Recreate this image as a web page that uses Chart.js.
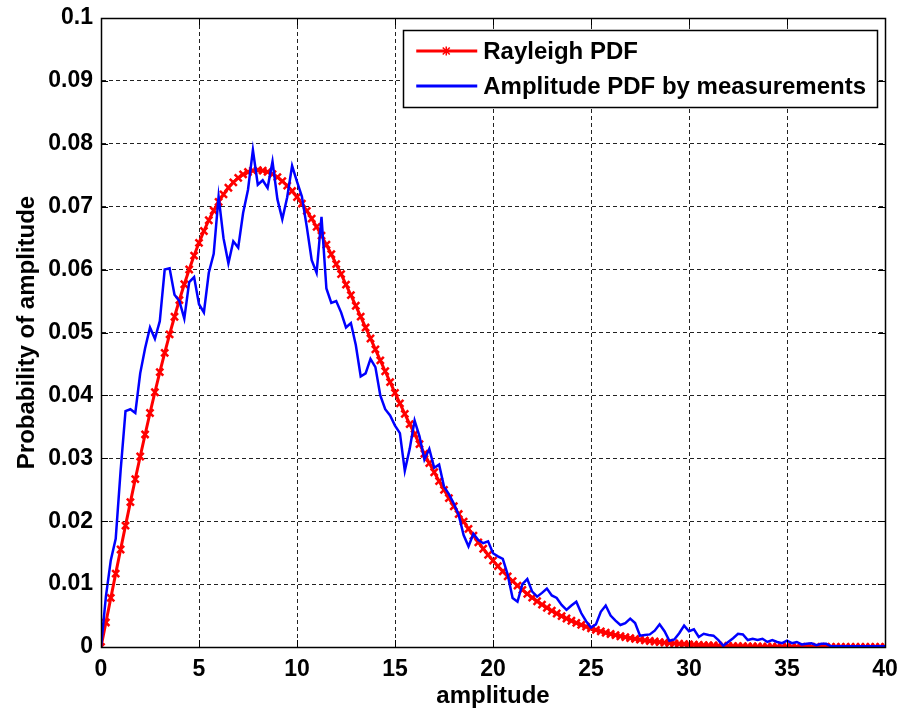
<!DOCTYPE html>
<html>
<head>
<meta charset="utf-8">
<title>Rayleigh PDF</title>
<script src="https://cdn.jsdelivr.net/npm/chart.js@4/dist/chart.umd.min.js"></script>
<style>
body { margin: 0; background: #fff; }
#grafico { display: block; }
</style>
</head>
<body>
<canvas id="grafico" width="897" height="712"></canvas>
<script>
// muestras de amplitud (eje x)
var amplitud = [
    0, 0.25, 0.5, 0.75, 1, 1.25, 1.5, 1.75, 2, 2.25, 2.5, 2.75, 3, 3.25, 3.5, 3.75, 4, 4.25, 4.5, 4.75,
    5, 5.25, 5.5, 5.75, 6, 6.25, 6.5, 6.75, 7, 7.25, 7.5, 7.75, 8, 8.25, 8.5, 8.75, 9, 9.25, 9.5, 9.75,
    10, 10.25, 10.5, 10.75, 11, 11.25, 11.5, 11.75, 12, 12.25, 12.5, 12.75, 13, 13.25, 13.5, 13.75, 14, 14.25, 14.5, 14.75,
    15, 15.25, 15.5, 15.75, 16, 16.25, 16.5, 16.75, 17, 17.25, 17.5, 17.75, 18, 18.25, 18.5, 18.75, 19, 19.25, 19.5, 19.75,
    20, 20.25, 20.5, 20.75, 21, 21.25, 21.5, 21.75, 22, 22.25, 22.5, 22.75, 23, 23.25, 23.5, 23.75, 24, 24.25, 24.5, 24.75,
    25, 25.25, 25.5, 25.75, 26, 26.25, 26.5, 26.75, 27, 27.25, 27.5, 27.75, 28, 28.25, 28.5, 28.75, 29, 29.25, 29.5, 29.75,
    30, 30.25, 30.5, 30.75, 31, 31.25, 31.5, 31.75, 32, 32.25, 32.5, 32.75, 33, 33.25, 33.5, 33.75, 34, 34.25, 34.5, 34.75,
    35, 35.25, 35.5, 35.75, 36, 36.25, 36.5, 36.75, 37, 37.25, 37.5, 37.75, 38, 38.25, 38.5, 38.75, 39, 39.25, 39.5, 39.75,
    40
];

// curva roja (Rayleigh PDF)
var rayleighPdf = [
    0, 0.00390, 0.00780, 0.01167, 0.01550, 0.01929, 0.02303, 0.02670, 0.03029, 0.03379, 0.03720, 0.04050, 0.04369, 0.04676, 0.04970, 0.05250, 0.05516, 0.05767, 0.06002, 0.06223,
    0.06426, 0.06614, 0.06785, 0.06939, 0.07077, 0.07197, 0.07301, 0.07388, 0.07459, 0.07513, 0.07551, 0.07574, 0.07582, 0.07574, 0.07553, 0.07517, 0.07469, 0.07407, 0.07334, 0.07249,
    0.07154, 0.07048, 0.06933, 0.06810, 0.06679, 0.06540, 0.06395, 0.06244, 0.06087, 0.05927, 0.05762, 0.05595, 0.05425, 0.05252, 0.05079, 0.04905, 0.04731, 0.04557, 0.04384, 0.04212,
    0.04041, 0.03873, 0.03707, 0.03544, 0.03383, 0.03226, 0.03073, 0.02923, 0.02778, 0.02636, 0.02499, 0.02366, 0.02238, 0.02114, 0.01994, 0.01879, 0.01769, 0.01663, 0.01562, 0.01465,
    0.01373, 0.01285, 0.01202, 0.01122, 0.01047, 0.00975, 0.00908, 0.00844, 0.00784, 0.00727, 0.00674, 0.00624, 0.00576, 0.00533, 0.00491, 0.00453, 0.00417, 0.00383, 0.00352, 0.00323,
    0.00296, 0.00271, 0.00248, 0.00227, 0.00207, 0.00189, 0.00171, 0.00156, 0.00142, 0.00129, 0.00117, 0.00106, 0.00096, 0.00087, 0.00078, 0.00070, 0.00063, 0.00057, 0.00051, 0.00046,
    0.00041, 0.00037, 0.00033, 0.00030, 0.00027, 0.00024, 0.00021, 0.00019, 0.00017, 0.00015, 0.00013, 0.00012, 0.00010, 0.00009, 0.00008, 0.00007, 0.00006, 0.00005, 0.00005, 0.00004,
    0.00004, 0.00003, 0.00003, 0.00003, 0.00003, 0.00002, 0.00002, 0.00002, 0.00002, 0.00001, 0.00001, 0.00001, 0.00001, 0.00001, 0.00001, 0.00001, 0.00001, 0.00001, 0.00001, 0.00001,
    0.00001
];

// curva azul (medidas)
var medidasPdf = [
    0, 0.0080, 0.0138, 0.0172, 0.0280, 0.0375, 0.0378, 0.0372, 0.0435, 0.0475, 0.0508, 0.0490, 0.0518, 0.0600, 0.0602, 0.0560, 0.0550, 0.0522, 0.0580, 0.0588,
    0.0545, 0.0532, 0.0595, 0.0625, 0.0716, 0.0650, 0.0610, 0.0645, 0.0635, 0.0690, 0.0727, 0.0790, 0.0735, 0.0742, 0.0730, 0.0772, 0.0712, 0.0680, 0.0715, 0.0765,
    0.0740, 0.0716, 0.0668, 0.0615, 0.0595, 0.0684, 0.0570, 0.0547, 0.0550, 0.0532, 0.0508, 0.0515, 0.0480, 0.0430, 0.0435, 0.0458, 0.0445, 0.0400, 0.0378, 0.0368,
    0.0352, 0.0340, 0.0280, 0.0315, 0.0360, 0.0335, 0.0298, 0.0315, 0.0285, 0.0290, 0.0255, 0.0243, 0.0228, 0.0210, 0.0178, 0.0160, 0.0180, 0.0170, 0.0165, 0.0168,
    0.0149, 0.0144, 0.0140, 0.0115, 0.0078, 0.0072, 0.0100, 0.0108, 0.0088, 0.0080, 0.0086, 0.0093, 0.0082, 0.0078, 0.0067, 0.0059, 0.0066, 0.0072, 0.0054, 0.0041,
    0.0031, 0.0036, 0.0056, 0.0066, 0.0050, 0.0042, 0.0035, 0.0038, 0.0045, 0.0038, 0.0018, 0.0019, 0.0020, 0.0026, 0.0036, 0.0025, 0.0010, 0.0012, 0.0022, 0.0034,
    0.0025, 0.0028, 0.0016, 0.0021, 0.0019, 0.0018, 0.0011, 0.0002, 0.0008, 0.0014, 0.0021, 0.0020, 0.0011, 0.0013, 0.0011, 0.0013, 0.0008, 0.0011, 0.0008, 0.0006,
    0.0010, 0.0006, 0.0008, 0.0004, 0.0005, 0.0006, 0.0003, 0.0005, 0.0005, 0.0001, 0.0001, 0.0001, 0.0001, 0.0001, 0.0001, 0.0001, 0.0001, 0.0001, 0.0001, 0.0001,
    0.0001
];

var ticksX = [0, 5, 10, 15, 20, 25, 30, 35, 40];
var ticksY = [0, 0.01, 0.02, 0.03, 0.04, 0.05, 0.06, 0.07, 0.08, 0.09, 0.1];
var nombres = ["Rayleigh PDF", "Amplitude PDF by measurements"];
var tituloX = "amplitude";
var tituloY = "Probability of amplitude";

var fuente = '"Liberation Sans", Arial, sans-serif';

function puntos(xs, ys)
{
    return xs.map(function (x, i) {
        return {x: x, y: ys[i]};
    });
}

function fijarTicks(lista)
{
    return function (scale) {
        scale.ticks = lista.map(function (v) { return {value: v}; });
    };
}

// marco negro y marcas de eje hacia adentro (estilo matlab)
var marcoEjes = {
    id: 'marcoEjes',
    afterDatasetsDraw: function (chart) {
        var ctx = chart.ctx;
        var a = chart.chartArea;
        var sx = chart.scales.x;
        var sy = chart.scales.y;
        var largo = 7;
        ctx.save();
        ctx.strokeStyle = '#000';
        ctx.lineWidth = 1;
        ctx.beginPath();
        sx.ticks.forEach(function (t) {
            var px = Math.round(sx.getPixelForValue(t.value)) + 0.5;
            ctx.moveTo(px, a.bottom); ctx.lineTo(px, a.bottom - largo);
            ctx.moveTo(px, a.top); ctx.lineTo(px, a.top + largo);
        });
        sy.ticks.forEach(function (t) {
            var py = Math.round(sy.getPixelForValue(t.value)) + 0.5;
            ctx.moveTo(a.left, py); ctx.lineTo(a.left + largo, py);
            ctx.moveTo(a.right, py); ctx.lineTo(a.right - largo, py);
        });
        ctx.stroke();
        ctx.lineWidth = 1.5;
        ctx.strokeRect(Math.round(a.left) + 0.5, Math.round(a.top) + 0.5, Math.round(a.right - a.left), Math.round(a.bottom - a.top));
        ctx.restore();
    }
};

var leyenda = {
    id: 'leyenda',
    afterDraw: function (chart) {
        var ctx = chart.ctx;
        var a = chart.chartArea;
        var sets = chart.data.datasets;
        ctx.save();
        ctx.font = 'bold 24px ' + fuente;
        var maxAncho = 0;
        sets.forEach(function (d) {
            maxAncho = Math.max(maxAncho, ctx.measureText(d.label).width);
        });
        var ancho = 80 + maxAncho + 11;
        var alto = 77;
        var der = a.right - 8;
        var izq = der - ancho;
        var arriba = a.top + 12;
        ctx.fillStyle = '#fff';
        ctx.fillRect(izq, arriba, ancho, alto);
        ctx.strokeStyle = '#000';
        ctx.lineWidth = 1.5;
        ctx.strokeRect(Math.round(izq) + 0.5, arriba + 0.5, Math.round(ancho), alto);
        var filas = [arriba + 21, arriba + 56];
        sets.forEach(function (d, i) {
            var y = filas[i];
            ctx.strokeStyle = d.borderColor;
            ctx.lineWidth = 3;
            ctx.beginPath();
            ctx.moveTo(izq + 13, y);
            ctx.lineTo(izq + 74, y);
            ctx.stroke();
            if (d.pointRadius > 0) {
                var cx = izq + 43, r = 3.5;
                ctx.lineWidth = 1.5;
                ctx.beginPath();
                ctx.moveTo(cx - r, y - r); ctx.lineTo(cx + r, y + r);
                ctx.moveTo(cx + r, y - r); ctx.lineTo(cx - r, y + r);
                ctx.moveTo(cx, y - r - 1); ctx.lineTo(cx, y + r + 1);
                ctx.stroke();
            }
            ctx.fillStyle = '#000';
            ctx.textBaseline = 'middle';
            ctx.textAlign = 'left';
            ctx.fillText(d.label, izq + 80, y + 1);
        });
        ctx.restore();
    }
};

var fondoBlanco = {
    id: 'fondoBlanco',
    beforeDraw: function (chart) {
        var ctx = chart.ctx;
        ctx.save();
        ctx.fillStyle = '#fff';
        ctx.fillRect(0, 0, chart.width, chart.height);
        ctx.restore();
    }
};

function generarGraficoLineas(canvas, data, options)
{
    return new Chart(canvas, {
        type: 'line',
        data: data,
        options: options,
        plugins: [fondoBlanco, marcoEjes, leyenda]
    });
}

var data = {
    datasets: [
        {
            label: nombres[0],
            data: puntos(amplitud, rayleighPdf),
            borderColor: '#ff0000',
            backgroundColor: '#ff0000',
            borderWidth: 3,
            pointStyle: 'crossRot',
            pointRadius: 5,
            pointBorderWidth: 2.5,
            pointBorderColor: '#ff0000',
            tension: 0,
            order: 1
        },
        {
            label: nombres[1],
            data: puntos(amplitud, medidasPdf),
            borderColor: '#0000ff',
            backgroundColor: '#0000ff',
            borderWidth: 2.5,
            pointRadius: 0,
            tension: 0,
            order: 0
        }
    ]
};

var options = {
    responsive: false,
    animation: false,
    devicePixelRatio: 1,
    layout: {padding: 0},
    plugins: {legend: {display: false}, tooltip: {enabled: false}},
    scales: {
        x: {
            type: 'linear',
            min: 0,
            max: 40,
            afterBuildTicks: fijarTicks(ticksX),
            afterFit: function (s) {
                s.height = 65;
                s.paddingLeft = 0;
                s.paddingRight = 12;
            },
            grid: {color: '#222', lineWidth: 1, drawTicks: false},
            border: {display: true, color: '#000', dash: [4, 3]},
            ticks: {color: '#000', padding: 9, maxRotation: 0, font: {family: fuente, size: 23, weight: 'bold'}},
            title: {display: true, text: tituloX, color: '#000', padding: {top: 0, bottom: 1}, font: {family: fuente, size: 24, weight: 'bold'}}
        },
        y: {
            type: 'linear',
            min: 0,
            max: 0.1,
            afterBuildTicks: fijarTicks(ticksY),
            afterFit: function (s) {
                s.width = 101;
                s.paddingTop = 18;
                s.paddingBottom = 0;
            },
            grid: {color: '#222', lineWidth: 1, drawTicks: false},
            border: {display: true, color: '#000', dash: [4, 3]},
            ticks: {color: '#000', padding: 8, font: {family: fuente, size: 23, weight: 'bold'},
                callback: function (v) { return String(v); }},
            title: {display: true, text: tituloY, color: '#000', padding: {top: 13, bottom: 0}, font: {family: fuente, size: 24, weight: 'bold'}}
        }
    }
};

generarGraficoLineas(document.getElementById('grafico'), data, options);
</script>
</body>
</html>
